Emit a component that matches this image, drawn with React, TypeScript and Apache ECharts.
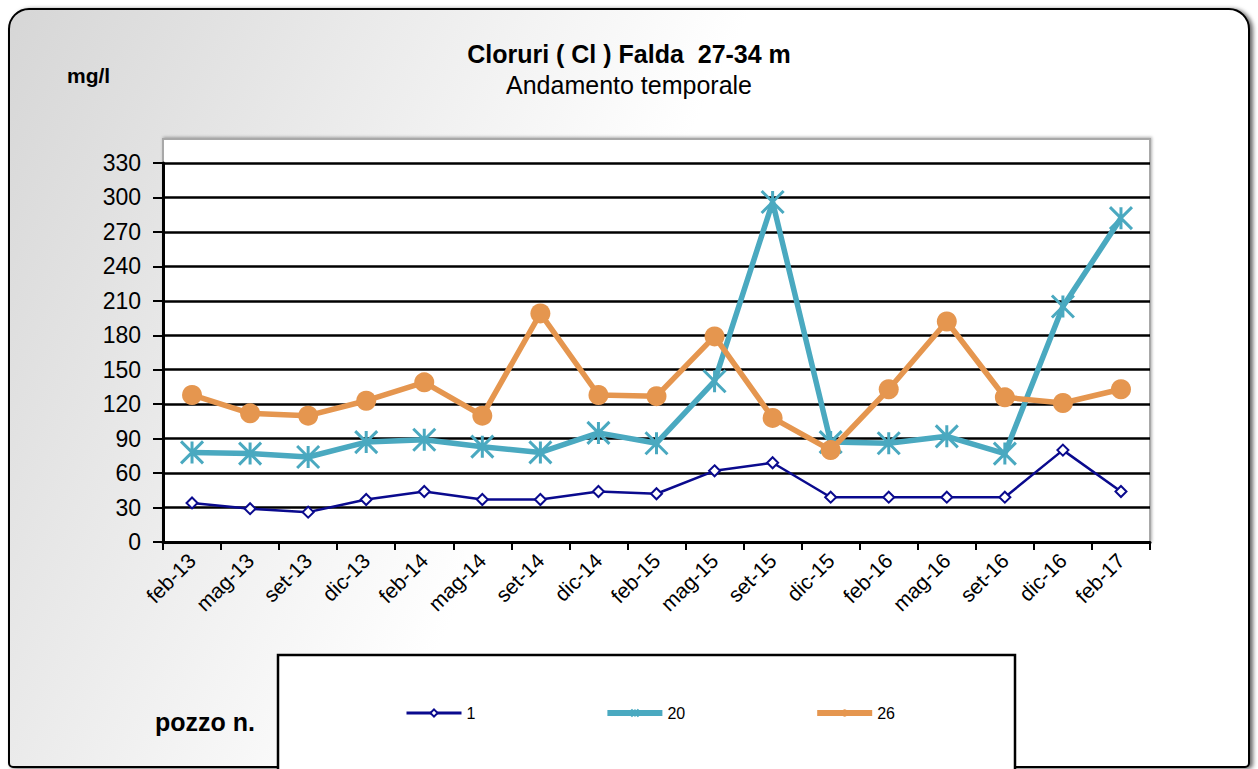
import React, { useEffect, useRef } from "react";
import * as echarts from "echarts";

const categories = ["feb-13","mag-13","set-13","dic-13","feb-14","mag-14","set-14","dic-14","feb-15","mag-15","set-15","dic-15","feb-16","mag-16","set-16","dic-16","feb-17"];
const pozzo1 = [34, 29, 26, 37, 44, 37, 37, 44, 42, 62, 69, 39, 39, 39, 39, 80, 44];
const pozzo20 = [78, 77, 74, 87, 89, 83, 78, 95, 86, 140, 296, 87, 86, 92, 77, 205, 282];
const pozzo26 = [128, 112, 110, 123, 139, 110, 199, 128, 127, 179, 108, 80, 133, 192, 126, 121, 133];
const seriesNames = ["1", "20", "26"];

const FONT = "Liberation Sans, Arial, sans-serif";
const STAR = "path://M0 0L20 20M20 0L0 20M10 0L10 20";
const C1 = "#0a0a8e";
const C20 = "#4aa9c0";
const C26 = "#e5964f";

export default function App() {
  const ref = useRef<HTMLDivElement>(null);
  useEffect(() => {
    const chart = echarts.init(ref.current!, null, { renderer: "svg" });
    chart.setOption({
      animation: false,
      textStyle: { fontFamily: FONT },
      title: {
        text: "Cloruri ( Cl ) Falda  27-34 m",
        subtext: "Andamento temporale",
        left: "center",
        top: 36,
        itemGap: 6,
        textStyle: { fontFamily: FONT, fontSize: 25, fontWeight: "bold", color: "#000" },
        subtextStyle: { fontFamily: FONT, fontSize: 25, color: "#000" },
      },
      graphic: [
        {
          type: "rect",
          z: -10,
          shape: { x: 9, y: 9, width: 1240, height: 758, r: [20, 20, 4, 4] },
          style: {
            fill: new echarts.graphic.LinearGradient(0, 0, 1, 0.3, [
              { offset: 0, color: "#d6d6d6" },
              { offset: 0.55, color: "#ffffff" },
              { offset: 1, color: "#ffffff" },
            ]),
            stroke: "#000",
            lineWidth: 2,
            shadowBlur: 4,
            shadowOffsetX: 3,
            shadowOffsetY: 1,
            shadowColor: "rgba(0,0,0,0.6)",
          },
        },
        {
          type: "rect",
          z: -5,
          shape: { x: 163, y: 139, width: 987, height: 403 },
          style: {
            fill: "#ffffff",
            stroke: "#a8a8a8",
            lineWidth: 2,
            shadowBlur: 3,
            shadowOffsetX: 1,
            shadowOffsetY: -1,
            shadowColor: "rgba(0,0,0,0.3)",
          },
        },
        {
          type: "rect",
          z: -4,
          shape: { x: 278, y: 655, width: 737, height: 130 },
          style: { fill: "#ffffff", stroke: "#000", lineWidth: 2.5 },
        },
        {
          type: "text",
          z: 10,
          style: { x: 67, y: 75, text: "mg/l", font: "bold 21px " + FONT, fill: "#000", textVerticalAlign: "middle" },
        },
        {
          type: "text",
          z: 10,
          style: { x: 155, y: 722, text: "pozzo n.", font: "bold 25px " + FONT, fill: "#000", textVerticalAlign: "middle" },
        },
      ],
      legend: {
        data: [
          { name: "1", lineStyle: { width: 3 }, itemStyle: { borderWidth: 2 } },
          { name: "20", lineStyle: { width: 6 } },
          { name: "26", lineStyle: { width: 6 } },
        ],
        left: 400,
        top: 700,
        itemWidth: 55,
        itemHeight: 9,
        itemGap: 129,
        textStyle: { fontFamily: FONT, fontSize: 16, color: "#000" },
      },
      grid: { left: 163, right: 108, top: 163, bottom: 227, containLabel: false },
      xAxis: {
        type: "category",
        data: categories,
        boundaryGap: true,
        axisLine: { lineStyle: { color: "#000", width: 3 } },
        axisTick: { show: true, alignWithLabel: false, length: 8, lineStyle: { color: "#000", width: 2 } },
        axisLabel: { rotate: 45, fontSize: 21, color: "#000", fontFamily: FONT, margin: 15, interval: 0 },
        splitLine: { show: false },
      },
      yAxis: {
        type: "value",
        min: 0,
        max: 330,
        interval: 30,
        axisLine: { show: true, lineStyle: { color: "#000", width: 3 } },
        axisTick: { show: true, length: 10, lineStyle: { color: "#000", width: 2 } },
        axisLabel: { fontSize: 23, color: "#000", fontFamily: FONT, margin: 22 },
        splitLine: { show: true, lineStyle: { color: "#000", width: 2.5 } },
      },
      series: [
        {
          name: "1",
          type: "line",
          data: pozzo1,
          symbol: "emptyDiamond",
          symbolSize: 11,
          lineStyle: { color: C1, width: 2.5 },
          itemStyle: { color: C1, borderWidth: 2 },
          z: 2,
        },
        {
          name: "20",
          type: "line",
          data: pozzo20,
          symbol: STAR,
          symbolSize: 22,
          lineStyle: { color: C20, width: 5.5 },
          itemStyle: { color: C20, borderColor: C20, borderWidth: 3 },
          z: 3,
        },
        {
          name: "26",
          type: "line",
          data: pozzo26,
          symbol: "circle",
          symbolSize: 20,
          lineStyle: { color: C26, width: 5.5 },
          itemStyle: { color: C26 },
          z: 4,
        },
      ],
    });
    return () => chart.dispose();
  }, []);
  return (
    <div
      ref={ref}
      style={{ position: "fixed", left: 0, top: 0, width: 1258, height: 769, background: "#fff" }}
    />
  );
}
